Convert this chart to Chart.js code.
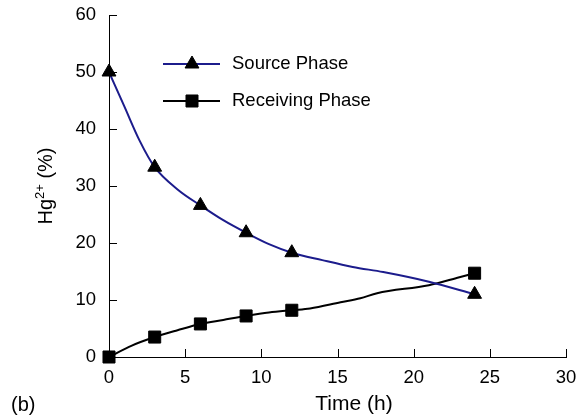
<!DOCTYPE html>
<html>
<head>
<meta charset="utf-8">
<script src="https://cdn.jsdelivr.net/npm/chart.js@4.4.0/dist/chart.umd.min.js"></script>
<style>
  html, body { margin: 0; padding: 0; background: #fff; }
  #wrap { position: relative; width: 578px; height: 418px; }
</style>
</head>
<body>
<div id="wrap"><canvas id="chart" width="578" height="418"></canvas></div>
<script>
// --- Data ---
const xTicks = [0, 5, 10, 15, 20, 25, 30];
const yTicks = [0, 10, 20, 30, 40, 50, 60];

// measured points (markers) and the curve between them
const sourceX = [0, 1, 2, 3, 4.5, 6, 7.5, 9, 10.5, 12, 14, 16, 18, 21, 24];
const sourceY = [50, 44, 38, 33.3, 29.4, 26.6, 24, 21.8, 19.8, 18.3, 17, 15.8, 14.9, 13.2, 11];
const sourceMarked = [1, 0, 0, 1, 0, 1, 0, 1, 0, 1, 0, 0, 0, 0, 1];

const recvX = [0, 1.5, 3, 4.5, 6, 7.5, 9, 10.5, 12, 13.2, 15.2, 16.5, 17.6, 21, 23, 24];
const recvY = [0, 2, 3.5, 4.7, 5.8, 6.5, 7.2, 7.8, 8.2, 8.5, 9.6, 10.3, 11.2, 12.6, 14, 14.7];
const recvMarked = [1, 0, 1, 0, 1, 0, 1, 0, 1, 0, 0, 0, 0, 0, 0, 1];

const FONT = '"Liberation Sans", Arial, Helvetica, sans-serif';
const SOURCE_COLOR = '#1c1c8c';

const toPoints = (xs, ys) => xs.map((x, i) => ({ x, y: ys[i] }));

// inward tick marks, axis titles, legend and panel label
const decorations = {
  id: 'decorations',
  afterDraw(chart) {
    const { ctx, chartArea: a, scales: { x, y } } = chart;
    ctx.save();
    ctx.strokeStyle = '#000';
    ctx.lineWidth = 1;
    ctx.beginPath();
    xTicks.forEach(v => {
      const px = Math.round(x.getPixelForValue(v)) + 0.5;
      ctx.moveTo(px, a.bottom); ctx.lineTo(px, a.bottom - 8);
    });
    yTicks.forEach(v => {
      const py = Math.round(y.getPixelForValue(v)) + 0.5;
      ctx.moveTo(a.left, py); ctx.lineTo(a.left + 8, py);
    });
    ctx.stroke();

    ctx.fillStyle = '#000';
    // x title
    ctx.font = '21px ' + FONT;
    ctx.textAlign = 'center';
    ctx.textBaseline = 'middle';
    ctx.fillText('Time (h)', 354, 404);
    // panel label
    ctx.font = '20px ' + FONT;
    ctx.textAlign = 'left';
    ctx.fillText('(b)', 11, 405);

    // y title with superscript, rotated
    ctx.save();
    ctx.translate(46, (a.top + a.bottom) / 2);
    ctx.rotate(-Math.PI / 2);
    ctx.textBaseline = 'middle';
    const big = '20px ' + FONT, small = '13px ' + FONT;
    ctx.font = big; const w1 = ctx.measureText('Hg').width;
    ctx.font = small; const w2 = ctx.measureText('2+').width;
    ctx.font = big; const w3 = ctx.measureText(' (%)').width;
    let sx = -(w1 + w2 + w3) / 2;
    ctx.textAlign = 'left';
    ctx.fillText('Hg', sx, 0);
    ctx.font = small; ctx.fillText('2+', sx + w1, -6);
    ctx.font = big; ctx.fillText(' (%)', sx + w1 + w2, 0);
    ctx.restore();

    // legend
    const rows = [
      { label: 'Source Phase', color: SOURCE_COLOR, style: 'triangle', r: 8, y: 64 },
      { label: 'Receiving Phase', color: '#000', style: 'rect', r: 8.5, y: 101 }
    ];
    rows.forEach(row => {
      ctx.strokeStyle = row.color;
      ctx.lineWidth = 2;
      ctx.beginPath();
      ctx.moveTo(163, row.y); ctx.lineTo(220, row.y);
      ctx.stroke();
      ctx.fillStyle = '#000';
      ctx.strokeStyle = '#000';
      ctx.lineWidth = 1;
      Chart.helpers.drawPoint(ctx, { pointStyle: row.style, radius: row.r, borderWidth: 1 }, 192, row.y);
      ctx.font = '18.5px ' + FONT;
      ctx.textAlign = 'left';
      ctx.textBaseline = 'middle';
      ctx.fillText(row.label, 232, row.y);
    });
    ctx.restore();
  }
};

new Chart(document.getElementById('chart'), {
  type: 'scatter',
  data: {
    datasets: [
      {
        label: 'Source Phase',
        data: toPoints(sourceX, sourceY),
        showLine: true,
        clip: false,
        borderColor: SOURCE_COLOR,
        borderWidth: 2,
        cubicInterpolationMode: 'monotone',
        pointStyle: 'triangle',
        pointRadius: sourceMarked.map(m => m ? 8 : 0),
        pointBackgroundColor: '#000',
        pointBorderColor: '#000',
        pointBorderWidth: 1
      },
      {
        label: 'Receiving Phase',
        data: toPoints(recvX, recvY),
        showLine: true,
        clip: false,
        borderColor: '#000',
        borderWidth: 2,
        cubicInterpolationMode: 'monotone',
        pointStyle: 'rect',
        pointRadius: recvMarked.map(m => m ? 8.5 : 0),
        pointBackgroundColor: '#000',
        pointBorderColor: '#000',
        pointBorderWidth: 1
      }
    ]
  },
  options: {
    responsive: false,
    animation: false,
    layout: { padding: { left: 0, right: 12, top: 15, bottom: 0 } },
    plugins: { legend: { display: false }, tooltip: { enabled: false } },
    scales: {
      x: {
        type: 'linear',
        min: 0, max: 30,
        afterBuildTicks: s => { s.ticks = xTicks.map(v => ({ value: v })); },
        afterFit: s => { s.height = 61; s.paddingLeft = 0; s.paddingRight = 0; },
        grid: { display: false, drawTicks: false },
        border: { display: true, color: '#000', width: 1 },
        ticks: { color: '#000', padding: 10, font: { family: FONT, size: 18.5 }, maxRotation: 0 }
      },
      y: {
        min: 0, max: 60,
        afterBuildTicks: s => { s.ticks = yTicks.map(v => ({ value: v })); },
        afterFit: s => { s.width = 109; s.paddingTop = 0; s.paddingBottom = 0; },
        grid: { display: false, drawTicks: false },
        border: { display: true, color: '#000', width: 1 },
        ticks: { color: '#000', padding: 13, font: { family: FONT, size: 18.5 } }
      }
    }
  },
  plugins: [decorations]
});
</script>
</body>
</html>
